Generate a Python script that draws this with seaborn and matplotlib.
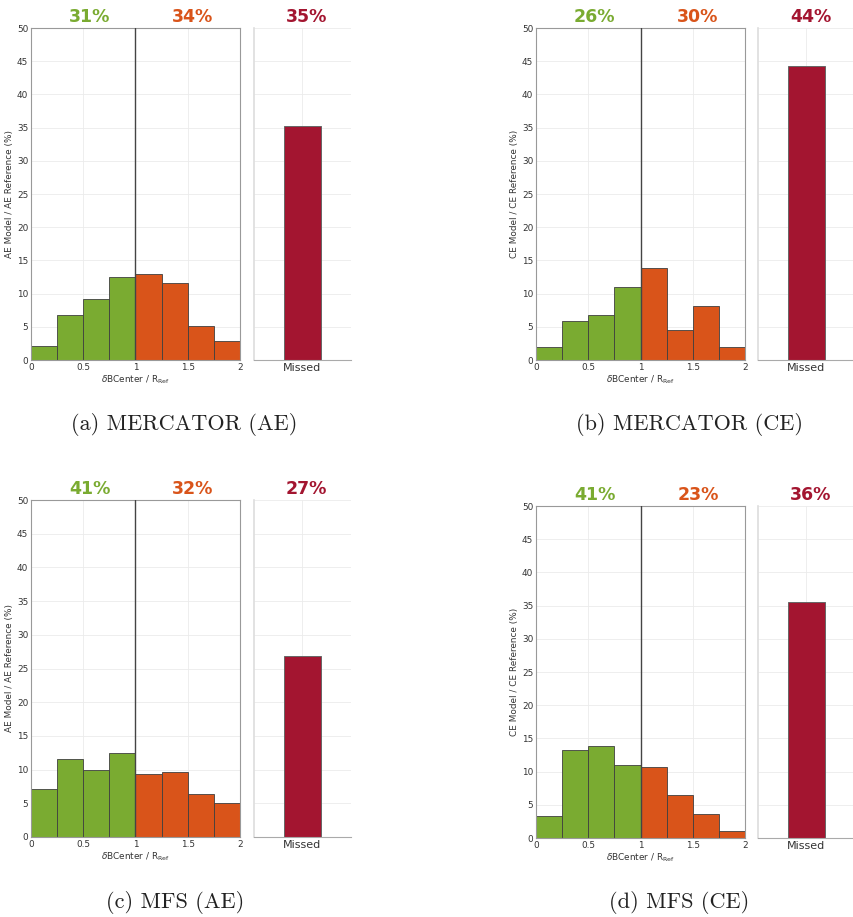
import numpy as np
import pandas as pd
import matplotlib
matplotlib.use('Agg')
import matplotlib.pyplot as plt
import seaborn as sns

# bin edges of dBCenter / R_Ref
bordes = [0, 0.25, 0.5, 0.75, 1.0, 1.25, 1.5, 1.75, 2.0]
centros = [0.125, 0.375, 0.625, 0.875, 1.125, 1.375, 1.625, 1.875]

# bar heights (%) per panel
merc_ae = [2.1, 6.8, 9.2, 12.5, 12.9, 11.6, 5.1, 2.9]
merc_ce = [1.9, 5.9, 6.8, 11.0, 13.9, 4.5, 8.1, 1.9]
mfs_ae = [7.1, 11.5, 10.0, 12.4, 9.4, 9.7, 6.4, 5.1]
mfs_ce = [3.3, 13.2, 13.9, 11.0, 10.7, 6.5, 3.6, 1.0]
missed = [35.2, 44.3, 26.8, 35.6]

# summary percentages (inside, outside, missed)
pct_in = ['31%', '26%', '41%', '41%']
pct_out = ['34%', '30%', '32%', '23%']
pct_missed = ['35%', '44%', '27%', '36%']

captions = ['(a) MERCATOR (AE)', '(b) MERCATOR (CE)', '(c) MFS (AE)', '(d) MFS (CE)']
ylabels = ['AE Model / AE Reference (%)', 'CE Model / CE Reference (%)',
           'AE Model / AE Reference (%)', 'CE Model / CE Reference (%)']

VERDE = '#7aab31'
NARANJA = '#d9541a'
ROJO = '#a31530'
GRIS = '#444444'

sns.set_style('white')
W, H = 854, 917
fig = plt.figure(figsize=(W / 100, H / 100), dpi=100)


def caja(x0, y0, x1, y1):
    # pixel box (top-left origin) -> figure fraction
    return [x0 / W, 1 - y1 / H, (x1 - x0) / W, (y1 - y0) / H]


# hist box, missed box (pixels), caption position
layout = [
    ((31, 28, 240, 360), (254, 28, 351, 360), (184, 425)),
    ((536, 28, 745, 360), (758, 28, 855, 360), (690, 425)),
    ((31, 500, 240, 837), (254, 500, 351, 837), (175, 903)),
    ((536, 506, 745, 838), (758, 506, 855, 838), (679, 903)),
]

series = [merc_ae, merc_ce, mfs_ae, mfs_ce]

for i, valores in enumerate(series):
    hbox, mbox, cap = layout[i]
    ax = fig.add_axes(caja(*hbox))
    df = pd.DataFrame({'x': centros, 'v': valores})
    df['lado'] = np.where(df['x'] < 1, 'in', 'out')
    sns.histplot(data=df, x='x', weights='v', hue='lado', bins=bordes,
                 palette={'in': VERDE, 'out': NARANJA}, alpha=1,
                 edgecolor='#3f3f3f', linewidth=0.6, legend=False, ax=ax)
    ax.axvline(1, color=GRIS, lw=1.0, zorder=5)
    ax.set_xlim(0, 2)
    ax.set_ylim(0, 50)
    ax.set_yticks(np.arange(0, 51, 5))
    ax.set_xticks([0, 0.5, 1, 1.5, 2])
    ax.set_xticklabels(['0', '0.5', '1', '1.5', '2'])
    ax.grid(True, color='#ebebeb', lw=0.6)
    ax.set_axisbelow(True)
    ax.tick_params(direction='in', length=2.5, width=0.5, labelsize=6.4,
                   colors='#555555', labelcolor='#333333', pad=2)
    for s in ax.spines.values():
        s.set_color('#999999')
        s.set_linewidth(0.8)
    ax.set_ylabel(ylabels[i], fontsize=6.4, color='#333333', labelpad=2)
    ax.set_xlabel(r'$\delta$BCenter / R$_{\mathrm{Ref}}$', fontsize=6.4,
                  color='#333333', labelpad=1)
    ax.text(0.56, 1.018, pct_in[i], transform=ax.get_xaxis_transform(),
            ha='center', va='baseline', color=VERDE, fontsize=12.5, fontweight='bold')
    ax.text(1.55, 1.018, pct_out[i], transform=ax.get_xaxis_transform(),
            ha='center', va='baseline', color=NARANJA, fontsize=12.5, fontweight='bold')

    ax2 = fig.add_axes(caja(*mbox))
    dm = pd.DataFrame({'cat': ['Missed'], 'v': [missed[i]]})
    sns.barplot(data=dm, x='cat', y='v', color=ROJO, saturation=1, width=0.38,
                edgecolor='#666666', linewidth=0.7, ax=ax2)
    ax2.set_xlim(-0.5, 0.5)
    ax2.set_ylim(0, 50)
    ax2.set_yticks(np.arange(0, 51, 5))
    ax2.set_yticklabels([])
    ax2.grid(True, color='#ebebeb', lw=0.6)
    ax2.set_axisbelow(True)
    ax2.set_xlabel('')
    ax2.set_ylabel('')
    ax2.tick_params(axis='y', direction='in', length=2.5, width=0.5, colors='#777777')
    ax2.tick_params(axis='x', direction='in', length=2, width=0.5, labelsize=8,
                    labelcolor='#333333', pad=2)
    ax2.spines['top'].set_visible(False)
    ax2.spines['right'].set_visible(False)
    ax2.spines['left'].set_color('#dddddd')
    ax2.spines['left'].set_linewidth(1.2)
    ax2.spines['bottom'].set_color('#aaaaaa')
    ax2.text(0.54, 1.018, pct_missed[i], transform=ax2.transAxes, ha='center',
             va='baseline', color=ROJO, fontsize=12.5, fontweight='bold')

    fig.text(cap[0] / W, 1 - cap[1] / H, captions[i], ha='center', va='center',
             fontsize=16, family='cmr10', color='#222222')

fig.savefig('out.png', dpi=100)
